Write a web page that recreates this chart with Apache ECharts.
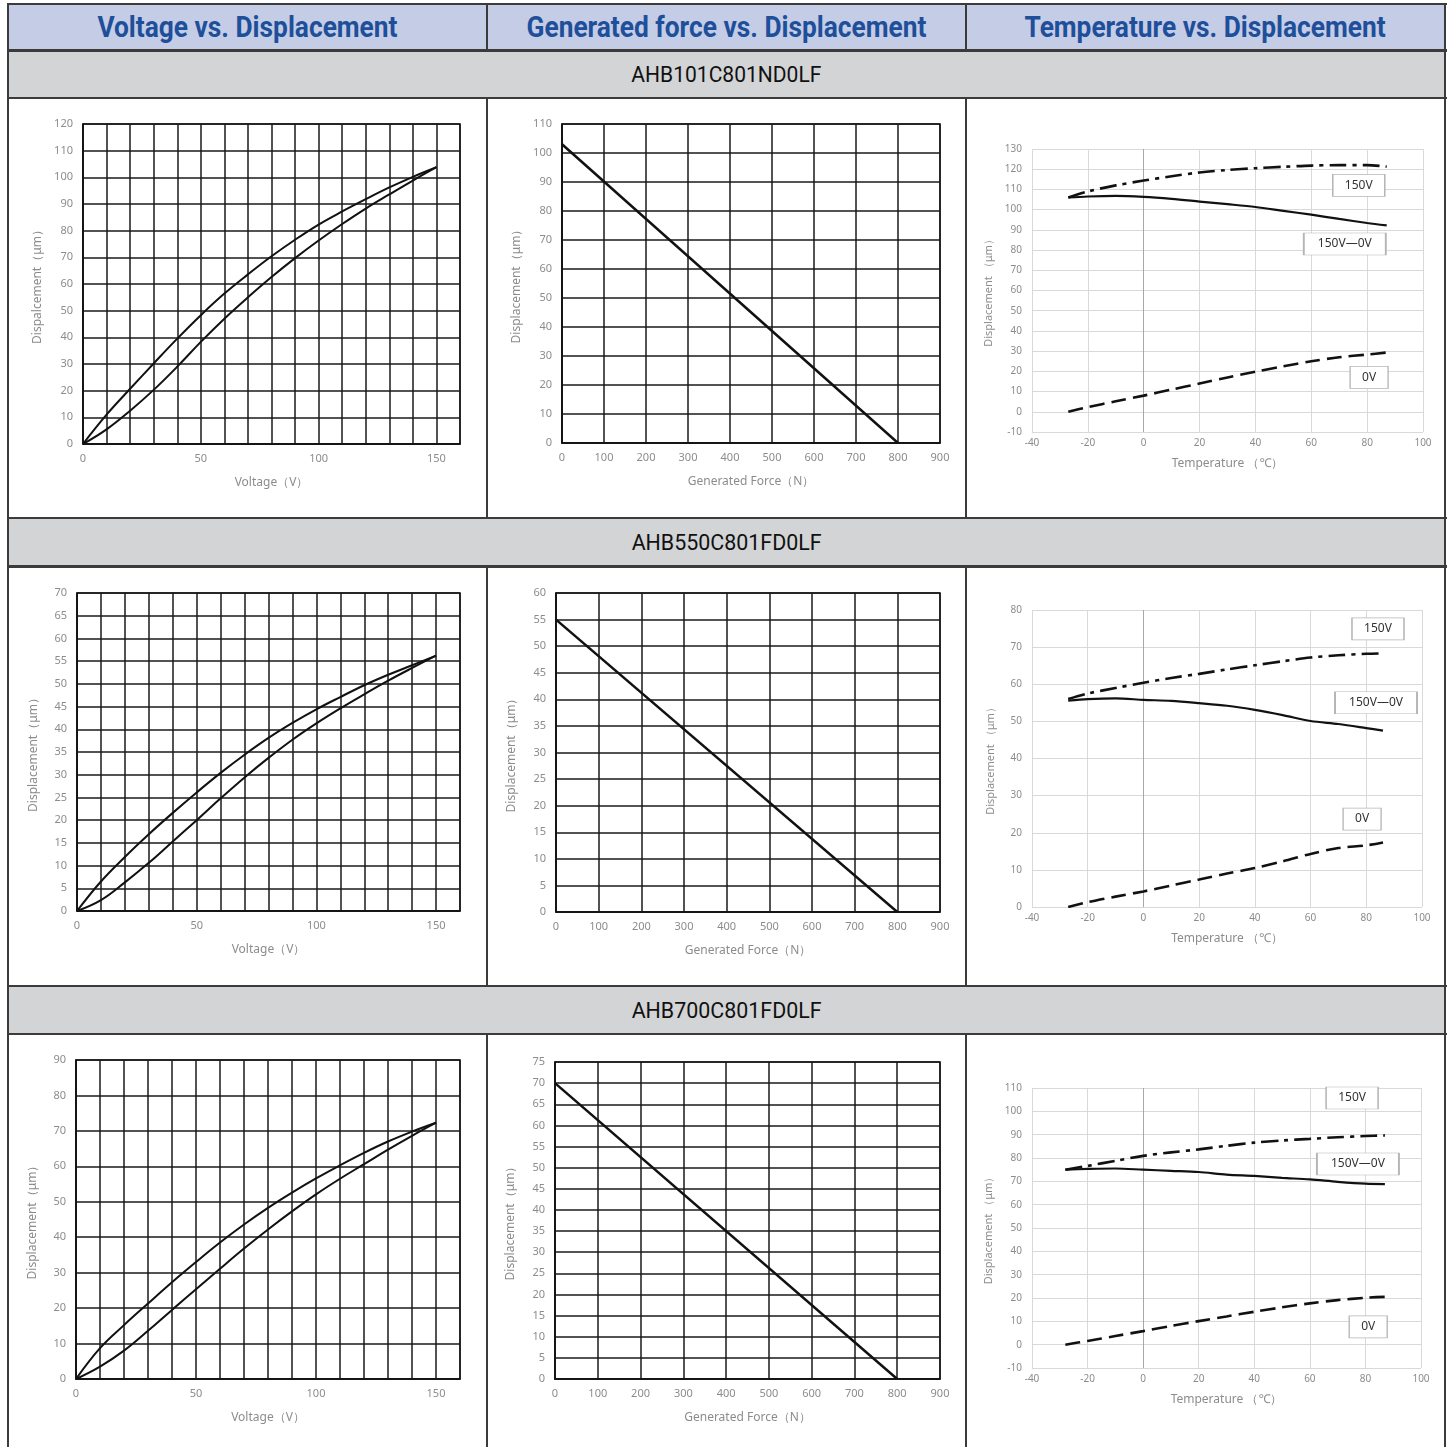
<!DOCTYPE html>
<html>
<head>
<meta charset="utf-8">
<script src="https://cdn.jsdelivr.net/npm/echarts@6/dist/echarts.min.js"></script>
<style>
  html, body { margin: 0; padding: 0; background: #fff; }
  body { width: 1450px; height: 1447px; position: relative; overflow: hidden; }
  .band { position: absolute; }
  .hd { position: absolute; top: 4px; height: 46px; line-height: 46px; text-align: center; white-space: nowrap;
        font-family: Roboto, "DejaVu Sans", sans-serif; font-weight: bold; font-size: 29px; color: #1d4f9b; }
  .prod { position: absolute; left: 8px; width: 1437px; height: 48px; line-height: 50px; text-align: center; white-space: nowrap;
          font-family: Roboto, "DejaVu Sans", sans-serif; font-size: 22px; color: #111; }
  .hd span, .prod span { display: inline-block; transform-origin: 50% 50%; }
  .ln { position: absolute; background: #3b3b3b; z-index: 5; }
  .chart { position: absolute; }
</style>
</head>
<body>
<script>
// ---------- data ----------
var headers = ['Voltage vs. Displacement', 'Generated force vs. Displacement', 'Temperature vs. Displacement'];
var products = ['AHB101C801ND0LF', 'AHB550C801FD0LF', 'AHB700C801FD0LF'];

// voltage vs displacement (hysteresis)
var voltage = [0, 10, 20, 30, 40, 50, 60, 70, 80, 90, 100, 110, 120, 130, 140, 150];
var vUpper1 = [0, 11, 20.7, 30.2, 39.5, 48.3, 56.4, 63.6, 70.4, 76.6, 82.3, 87.2, 91.8, 96.2, 100.2, 103.8];
var vLower1 = [0, 5.5, 12.5, 20.3, 29, 38.3, 47, 55, 62.6, 69.7, 76.3, 82.5, 88.3, 93.6, 98.8, 103.8];
var vUpper2 = [0, 6.5, 11.9, 16.9, 21.6, 26.1, 30.4, 34.4, 38.1, 41.4, 44.4, 47.1, 49.7, 52, 54.1, 56.2];
var vLower2 = [0, 2.4, 6.3, 10.6, 15.3, 20, 24.8, 29.4, 33.7, 37.7, 41.3, 44.6, 47.7, 50.7, 53.5, 56.2];
var vUpper3 = [0, 8.7, 15.2, 21.3, 27.3, 33, 38.5, 43.6, 48.3, 52.6, 56.6, 60.3, 63.8, 67, 69.8, 72.3];
var vLower3 = [0, 3.5, 8, 13.6, 19.5, 25.3, 31.1, 36.8, 42.2, 47.3, 52.1, 56.5, 60.6, 64.7, 68.6, 72.3];

// generated force vs displacement
var force = [0, 800];
var fDisp1 = [103, 0];
var fDisp2 = [55, 0];
var fDisp3 = [70, 0];

// temperature vs displacement
var temp1 = [-27, -20, -10, 0, 10, 20, 30, 40, 50, 60, 70, 80, 87];
var t150V1 = [106, 109, 112, 114.4, 116.5, 118.4, 119.6, 120.5, 121.2, 121.8, 122, 122, 121.3];
var tDiff1 = [106, 106.5, 106.8, 106.3, 105.3, 104, 102.7, 101.3, 99.4, 97.5, 95.4, 93.4, 92.2];
var t0V1 = [0, 2.3, 5.2, 8, 11, 14, 17, 19.8, 22.5, 25, 27, 28.3, 29.3];

var temp2 = [-27, -20, -10, 0, 10, 20, 30, 40, 50, 60, 70, 80, 86];
var t150V2 = [56, 57.5, 59, 60.4, 61.7, 62.8, 64, 65.1, 66.2, 67.2, 67.8, 68.2, 68.3];
var tDiff2 = [55.6, 56, 56.2, 55.8, 55.5, 54.9, 54.2, 53.1, 51.7, 50.1, 49.3, 48.2, 47.5];
var t0V2 = [0, 1.3, 2.8, 4.2, 5.8, 7.4, 9, 10.5, 12.3, 14.3, 15.9, 16.6, 17.4];

var temp3 = [-28, -20, -10, 0, 10, 20, 30, 40, 50, 60, 70, 80, 87];
var t150V3 = [75, 76.6, 78.8, 80.9, 82.4, 83.7, 85.2, 86.6, 87.5, 88.2, 88.9, 89.4, 89.7];
var tDiff3 = [75, 75.3, 75.5, 75, 74.5, 74, 72.9, 72.3, 71.5, 70.8, 69.8, 69, 68.8];
var t0V3 = [0, 1.6, 3.7, 5.8, 8, 10.1, 12.1, 14.1, 16, 17.7, 19.1, 20.1, 20.5];

var seriesNames = ['150V', '150V—0V', '0V'];

// ---------- layout ----------
var COLS = [8, 487, 966, 1445];
var CHART_ROWS = [[98, 518], [566, 986], [1034, 1447]];
var LABEL_TOPS = [50, 518, 986];

function pairs(xs, ys) {
  return xs.map(function (x, i) { return [x, ys[i]]; });
}

var GRAY = '#8c8c8c';
var FONT = '"Noto Sans", "Open Sans", sans-serif';

function axisText(size) {
  return { color: GRAY, fontSize: size || 11, fontFamily: FONT };
}

// voltage chart
function voltageOption(grid, yMax, yInt, upper, lower, yName) {
  return {
    animation: false,
    grid: Object.assign({ show: true, borderColor: '#111', borderWidth: 1.5 }, grid),
    xAxis: {
      type: 'value', min: 0, max: 160, interval: 10,
      name: 'Voltage（V）', nameLocation: 'middle', nameGap: 33, nameTextStyle: axisText(12),
      axisLine: { lineStyle: { color: '#111', width: 1.5 } }, axisTick: { show: false },
      axisLabel: Object.assign(axisText(11), { margin: 9, formatter: function (v) { return (v % 50 === 0 && v <= 150) ? v : ''; } }),
      splitLine: { lineStyle: { color: '#1a1a1a', width: 1.5 } }
    },
    yAxis: {
      type: 'value', min: 0, max: yMax, interval: yInt,
      name: yName, nameLocation: 'middle', nameGap: 37, nameTextStyle: axisText(12),
      axisLine: { lineStyle: { color: '#111', width: 1.5 } }, axisTick: { show: false },
      axisLabel: Object.assign(axisText(11), { margin: 10 }),
      splitLine: { lineStyle: { color: '#1a1a1a', width: 1.5 } }
    },
    series: [
      { type: 'line', data: pairs(voltage, upper), smooth: 0.4, symbol: 'none', lineStyle: { color: '#111', width: 2 } },
      { type: 'line', data: pairs(voltage, lower), smooth: 0.4, symbol: 'none', lineStyle: { color: '#111', width: 2 } }
    ]
  };
}

// force chart
function forceOption(grid, yMax, yInt, disp) {
  return {
    animation: false,
    grid: Object.assign({ show: true, borderColor: '#111', borderWidth: 1.5 }, grid),
    xAxis: {
      type: 'value', min: 0, max: 900, interval: 100,
      name: 'Generated Force（N）', nameLocation: 'middle', nameGap: 33, nameTextStyle: axisText(12),
      axisLine: { lineStyle: { color: '#111', width: 1.5 } }, axisTick: { show: false },
      axisLabel: Object.assign(axisText(11), { margin: 9 }),
      splitLine: { lineStyle: { color: '#1a1a1a', width: 1.5 } }
    },
    yAxis: {
      type: 'value', min: 0, max: yMax, interval: yInt,
      name: 'Displacement（μm）', nameLocation: 'middle', nameGap: 38, nameTextStyle: axisText(12),
      axisLine: { lineStyle: { color: '#111', width: 1.5 } }, axisTick: { show: false },
      axisLabel: Object.assign(axisText(11), { margin: 10 }),
      splitLine: { lineStyle: { color: '#1a1a1a', width: 1.5 } }
    },
    series: [
      { type: 'line', data: pairs(force, disp), symbol: 'none', lineStyle: { color: '#111', width: 2.5 } }
    ]
  };
}

// temperature chart
function tempOption(grid, yMin, yMax, temps, s150, sDiff, s0, notes) {
  function box(i, w) {
    return {
      symbol: 'rect', symbolSize: [w, 22], silent: true,
      itemStyle: { color: '#fff', borderColor: '#b5b5b5', borderWidth: 1 },
      label: { show: true, position: 'inside', color: '#333', fontSize: 12, fontFamily: FONT,
               formatter: seriesNames[i] },
      data: [{ coord: notes[i] }]
    };
  }
  var L = '#d9d9d9', D = '#a8a8a8';
  return {
    animation: false,
    grid: Object.assign({ show: false }, grid),
    xAxis: {
      type: 'value', min: -40, max: 100, interval: 20,
      name: 'Temperature （℃）', nameLocation: 'middle', nameGap: 26, nameTextStyle: axisText(12),
      axisLine: { show: false }, axisTick: { show: false },
      axisLabel: Object.assign(axisText(10), { margin: 6 }),
      splitLine: { lineStyle: { color: [L, L, D, L, L, L, L, L], width: 1 } }
    },
    yAxis: {
      type: 'value', min: yMin, max: yMax, interval: 10,
      name: 'Displacement （μm）', nameLocation: 'middle', nameGap: 36, nameTextStyle: axisText(11),
      axisLine: { show: false }, axisTick: { show: false },
      axisLabel: Object.assign(axisText(10), { margin: 10 }),
      splitLine: { lineStyle: { color: L, width: 1 } }
    },
    series: [
      { type: 'line', data: pairs(temps, s150), smooth: 0.3, symbol: 'none',
        lineStyle: { color: '#111', width: 2.6, type: [17, 6, 4, 6] }, markPoint: box(0, 52) },
      { type: 'line', data: pairs(temps, sDiff), smooth: 0.3, symbol: 'none',
        lineStyle: { color: '#111', width: 2.2 }, markPoint: box(1, 82) },
      { type: 'line', data: pairs(temps, s0), smooth: 0.3, symbol: 'none',
        lineStyle: { color: '#111', width: 2.6, type: [15, 7] }, markPoint: box(2, 38) }
    ]
  };
}

var options = [
  [
    voltageOption({ left: 75, right: 27, top: 26, bottom: 74 }, 120, 10, vUpper1, vLower1, 'Dispalcement（μm）'),
    forceOption({ left: 75, right: 26, top: 26, bottom: 75 }, 110, 10, fDisp1),
    tempOption({ left: 66, right: 22, top: 51, bottom: 86 }, -10, 130, temp1, t150V1, tDiff1, t0V1,
               [[77, 112], [72, 83], [80.7, 17]])
  ],
  [
    voltageOption({ left: 69, right: 27, top: 27, bottom: 75 }, 70, 5, vUpper2, vLower2, 'Displacement（μm）'),
    forceOption({ left: 69, right: 26, top: 27, bottom: 74 }, 60, 5, fDisp2),
    tempOption({ left: 66, right: 23, top: 44, bottom: 79 }, 0, 80, temp2, t150V2, tDiff2, t0V2,
               [[84.2, 74.9], [83.5, 55], [78.5, 23.7]])
  ],
  [
    voltageOption({ left: 68, right: 27, top: 26, bottom: 68 }, 90, 10, vUpper3, vLower3, 'Displacement（μm）'),
    forceOption({ left: 68, right: 26, top: 28, bottom: 68 }, 75, 5, fDisp3),
    tempOption({ left: 66, right: 24, top: 54, bottom: 79 }, -10, 110, temp3, t150V3, tDiff3, t0V3,
               [[75.2, 105.7], [77.3, 77.4], [81, 7.6]])
  ]
];

// ---------- build table ----------
function addDiv(cls, css, text) {
  var d = document.createElement('div');
  d.className = cls;
  Object.keys(css).forEach(function (k) { d.style[k] = css[k]; });
  if (text) {
    var s = document.createElement('span');
    s.textContent = text;
    d.appendChild(s);
  }
  document.body.appendChild(d);
  return d;
}

// squeeze text horizontally (condensed look)
function squeeze(div, target) {
  var s = div.firstChild;
  var k = target / s.getBoundingClientRect().width;
  s.style.transform = 'scaleX(' + k.toFixed(3) + ')';
  return k;
}

// header band
addDiv('band', { left: '8px', top: '4px', width: '1437px', height: '46px', background: '#c5cce5' });
var hdDivs = headers.map(function (h, i) {
  return addDiv('hd', { left: COLS[i] + 'px', width: (COLS[i + 1] - COLS[i]) + 'px' }, h);
});
var kHd = squeeze(hdDivs[0], 300);
hdDivs.slice(1).forEach(function (d) { d.firstChild.style.transform = 'scaleX(' + kHd.toFixed(3) + ')'; });

products.forEach(function (p, r) {
  addDiv('band', { left: '8px', top: LABEL_TOPS[r] + 'px', width: '1437px', height: '48px', background: '#d3d4d6' });
  var pd = addDiv('prod', { top: LABEL_TOPS[r] + 'px' }, p);
  squeeze(pd, 190);
  for (var c = 0; c < 3; c++) {
    var el = addDiv('chart', {
      left: COLS[c] + 'px', top: CHART_ROWS[r][0] + 'px',
      width: (COLS[c + 1] - COLS[c]) + 'px', height: (CHART_ROWS[r][1] - CHART_ROWS[r][0]) + 'px'
    });
    var ch = echarts.init(el, null, { renderer: 'canvas' });
    ch.setOption(options[r][c]);
  }
});

// borders
[4, 50, 98, 518, 566, 986, 1034].forEach(function (y, i) {
  addDiv('ln', { left: '7px', top: (y - 1) + 'px', width: '1440px', height: (i === 1 || i === 4 ? 3 : 2) + 'px' });
});
[8, 1445].forEach(function (x) {
  addDiv('ln', { left: (x - 1) + 'px', top: '3px', width: '2px', height: '1444px' });
});
var vSpans = [[4, 50], [98, 518], [566, 986], [1034, 1447]];
[487, 966].forEach(function (x) {
  vSpans.forEach(function (s) {
    addDiv('ln', { left: (x - 1) + 'px', top: s[0] + 'px', width: '2px', height: (s[1] - s[0]) + 'px' });
  });
});
</script>
</body>
</html>
